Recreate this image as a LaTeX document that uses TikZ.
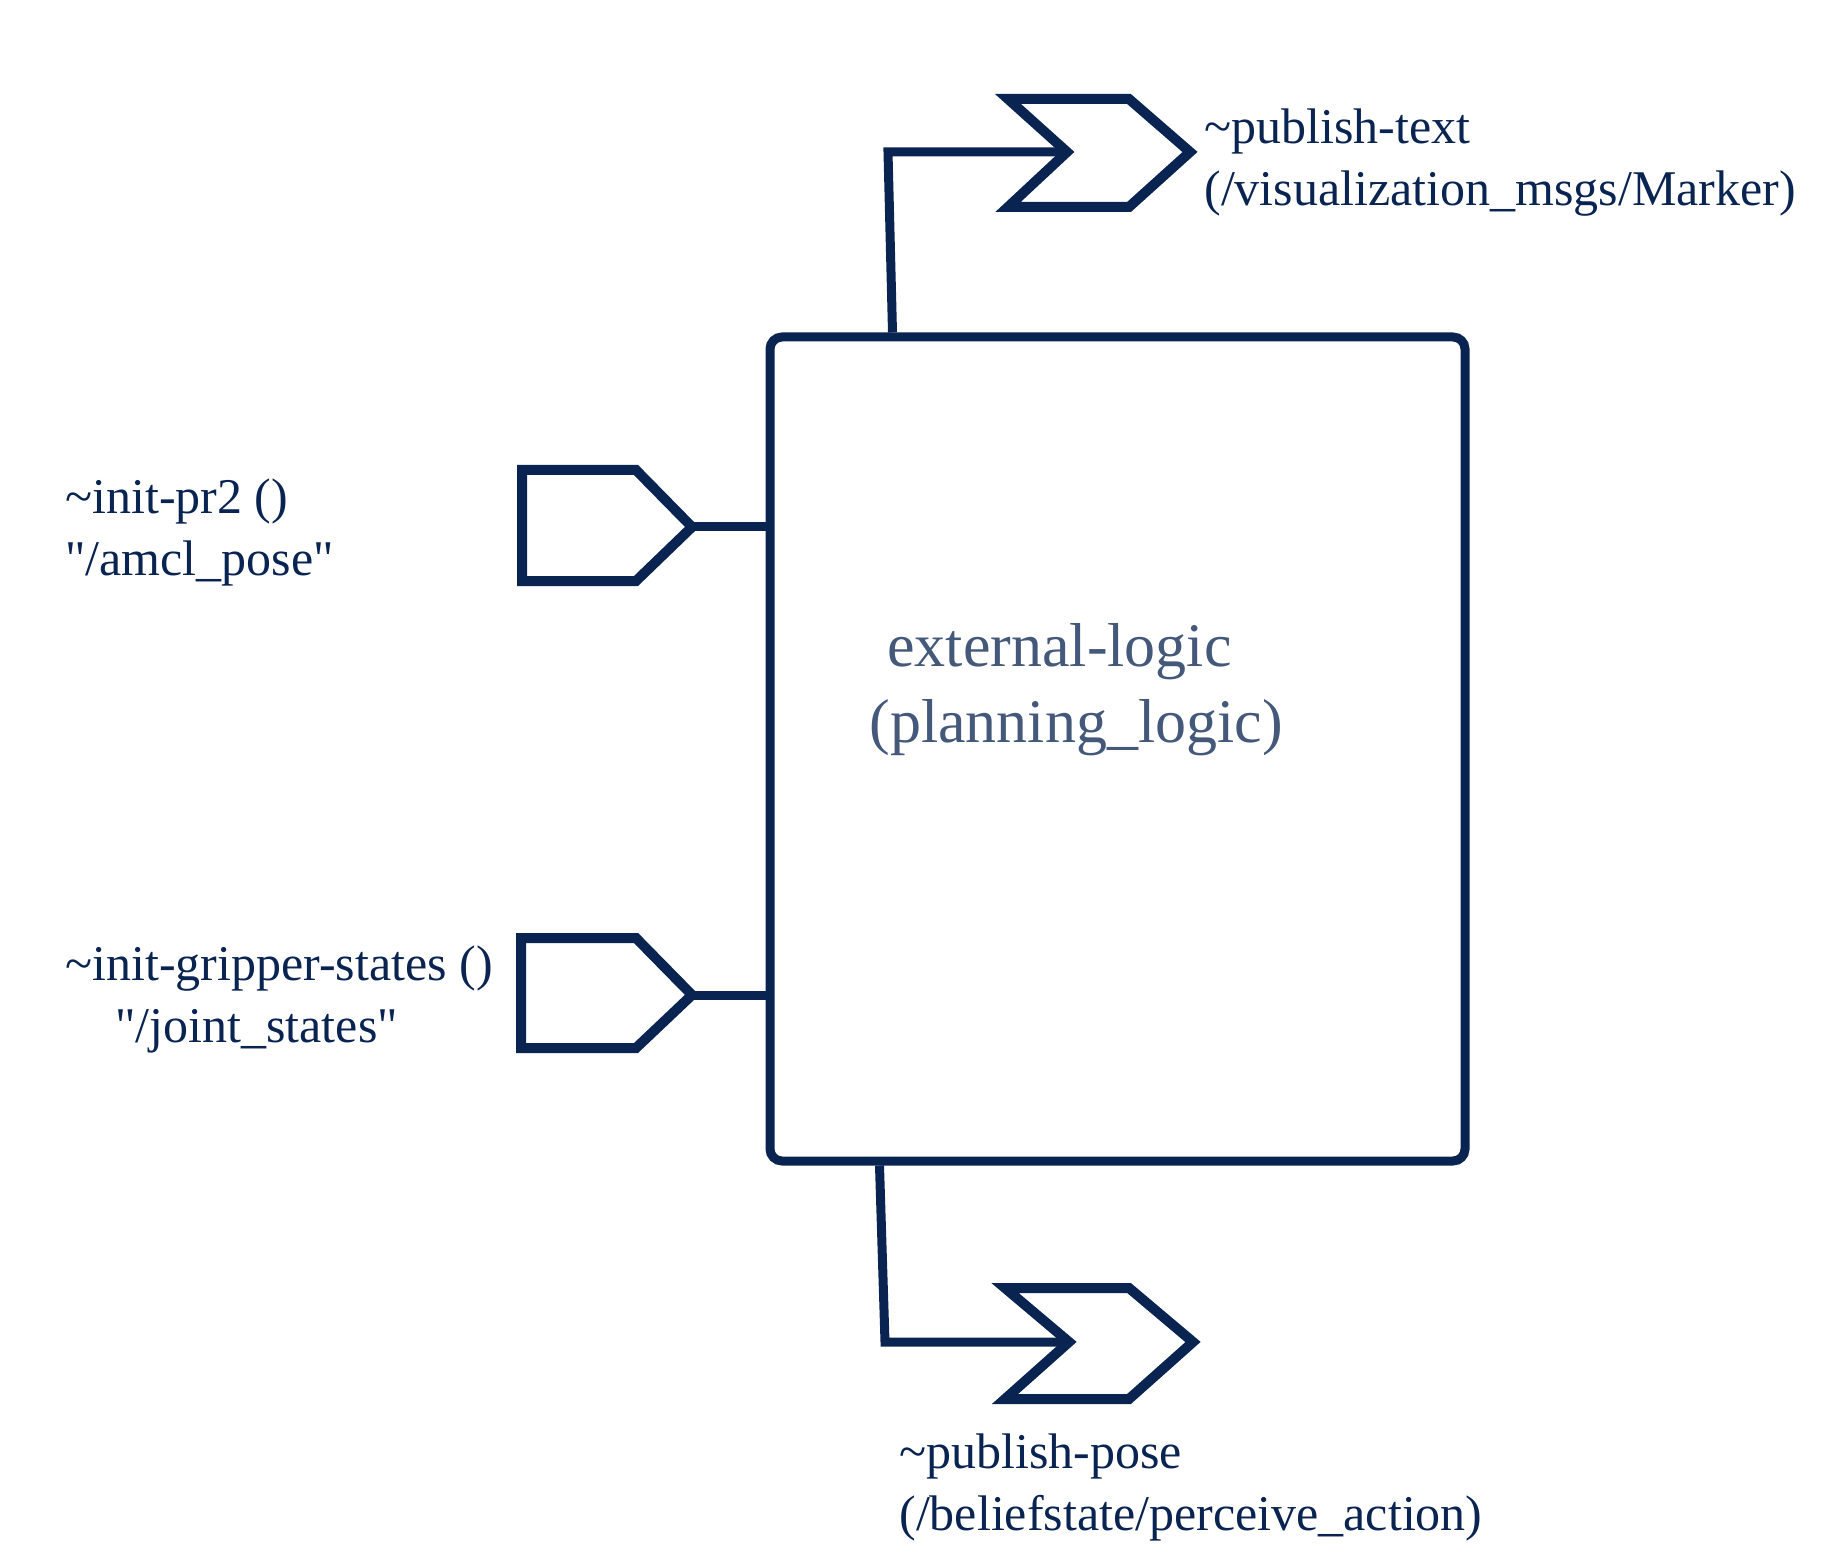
\documentclass[tikz,border=0pt]{standalone}
\usepackage{fontspec}
\defaultfontfeatures[\rmfamily]{}
\setmainfont{Liberation Serif}
\usepackage{xcolor}
\usetikzlibrary{calc}
\definecolor{navy}{HTML}{0A2452}
\definecolor{slate}{HTML}{44587A}
\tikzset{
	port/.style={draw=navy, line width=5pt, line join=miter},
	wire/.style={draw=navy, line width=4.5pt},
	lbl/.style={text=navy, font=\fontsize{25}{31}\selectfont, inner sep=0pt, align=left, anchor=west},
}

\begin{document}
\begin{tikzpicture}[x=0.5pt, y=-0.5pt]
	\useasboundingbox (0,0) rectangle (1848,1556);
	% component box
	\node[draw=navy, line width=4.5pt, rounded corners=6pt, minimum width=347.5pt, minimum height=412pt, inner sep=0pt] (logic) at (1117.5,749) {};
	\node[text=slate, font=\fontsize{31}{38}\selectfont, align=left, anchor=west, inner sep=0pt] (logicname) at (869,690) {\hspace*{9pt}external-logic\\(planning\_logic)};

	% input ports
	\draw[port] (522,470) -- (636,470) -- (692,527) -- (636,581) -- (522,581) -- cycle;
	\coordinate (pr2tip) at (692,527);
	\draw[port] (521,938) -- (636,938) -- (692,995) -- (636,1048) -- (521,1048) -- cycle;
	\coordinate (grippertip) at (692,995);
	\draw[wire] (pr2tip) -- (pr2tip -| logic.west);
	\draw[wire] (grippertip) -- (grippertip -| logic.west);

	% output ports
	\draw[port] (1008,99) -- (1129,99) -- (1190,152) -- (1129,207) -- (1008,207) -- (1067,152) -- cycle;
	\coordinate (textnotch) at (1067,152);
	\draw[port] (1005,1288) -- (1129,1288) -- (1193,1342) -- (1129,1399) -- (1005,1399) -- (1069,1342) -- cycle;
	\coordinate (posenotch) at (1069,1342);
	\draw[wire] ([xshift=63.5pt]logic.north west) -- (888,152) -- (textnotch);
	\draw[wire] ([xshift=57pt]logic.south west) -- (885,1342) -- (posenotch);

	% labels
	\node[lbl] (pr2lbl) at (65,532) {\textasciitilde init-pr2 ()\\"/amcl\_pose"};
	\node[lbl] (gripperlbl) at (65,999) {\textasciitilde init-gripper-states ()\\\hspace*{25pt}"/joint\_states"};
	\node[lbl] (textlbl) at (1204,163) {\textasciitilde publish-text\\(/visualization\_msgs/Marker)};
	\node[lbl] (poselbl) at (899,1487) {\textasciitilde publish-pose\\(/beliefstate/perceive\_action)};
\end{tikzpicture}
\end{document}
